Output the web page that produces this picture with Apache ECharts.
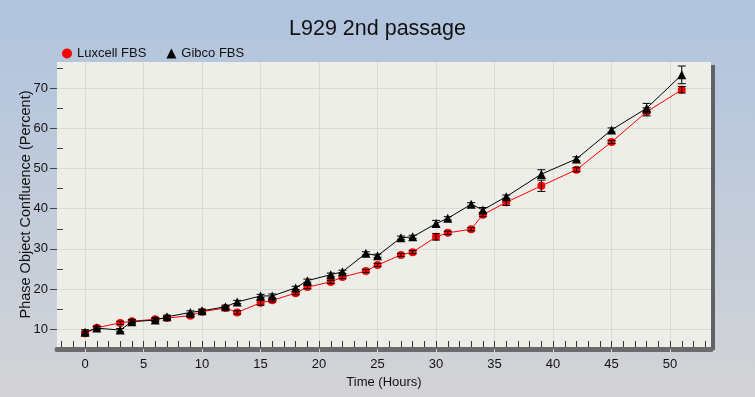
<!DOCTYPE html>
<html>
<head>
<meta charset="utf-8">
<script src="https://cdn.jsdelivr.net/npm/echarts@6/dist/echarts.min.js"></script>
<style>
  html, body { margin: 0; padding: 0; }
  #chart { width: 755px; height: 397px; }
</style>
</head>
<body>
<div id="chart"></div>
<script>
// time points (hours)
const hours = [0, 1, 3, 4, 6, 7, 9, 10, 12, 13, 15, 16, 18, 19, 21, 22, 24, 25, 27, 28, 30, 31, 33, 34, 36, 39, 42, 45, 48, 51];
// confluence (%)
const luxcell = [9.0, 10.4, 11.6, 12.0, 12.5, 12.8, 13.4, 14.4, 15.3, 14.2, 16.6, 17.2, 19.0, 20.5, 21.8, 23.0, 24.5, 26.0, 28.5, 29.2, 33.0, 34.0, 34.9, 38.5, 41.6, 45.7, 49.7, 56.6, 64.1, 69.6];
const gibco = [9.3, 10.3, 9.8, 11.9, 12.3, 13.1, 14.2, 14.6, 15.6, 16.8, 18.3, 18.3, 20.3, 22.1, 23.6, 24.3, 28.9, 28.3, 32.8, 33.0, 36.3, 37.6, 41.1, 39.7, 43.0, 48.6, 52.4, 59.6, 65.0, 73.3];
// error (+/-)
const luxcellErr = [0.4, 0.4, 0.4, 0.4, 0.4, 0.4, 0.4, 0.4, 0.4, 0.4, 0.6, 0.4, 0.4, 0.4, 0.4, 0.4, 0.4, 0.4, 0.4, 0.4, 0.8, 0.4, 0.4, 0.5, 0.8, 1.4, 0.5, 0.4, 1.0, 0.8];
const gibcoErr = [0.6, 0.4, 0.4, 0.4, 0.4, 0.4, 0.4, 0.4, 0.4, 0.4, 0.4, 0.5, 0.4, 0.4, 0.4, 0.4, 0.4, 0.4, 0.4, 0.4, 0.8, 0.4, 0.4, 0.6, 0.4, 1.1, 0.5, 0.5, 1.2, 2.2];
// ticks
const xMajor = [0, 5, 10, 15, 20, 25, 30, 35, 40, 45, 50];
const xMinor = [-2, -1, 0, 1, 2, 3, 4, 5, 6, 7, 8, 9, 10, 11, 12, 13, 14, 15, 16, 17, 18, 19, 20, 21, 22, 23, 24, 25, 26, 27, 28, 29, 30, 31, 32, 33, 34, 35, 36, 37, 38, 39, 40, 41, 42, 43, 44, 45, 46, 47, 48, 49, 50, 51, 52, 53];
const yMajor = [10, 20, 30, 40, 50, 60, 70];
const yMinor = [15, 25, 35, 45, 55, 65, 75];

const FONT = 'Arial, "Liberation Sans", sans-serif';
const X_MIN = -2.4, X_MAX = 53.5, Y_MIN = 5.6, Y_MAX = 76.5;

const chart = echarts.init(document.getElementById('chart'));

function errData(vals, errs) {
  return hours.map((t, i) => [t, vals[i] - errs[i], vals[i] + errs[i]]);
}

function renderErr(params, api) {
  const x = api.value(0);
  const lo = api.coord([x, api.value(1)]);
  const hi = api.coord([x, api.value(2)]);
  const style = { stroke: '#000', lineWidth: 1 };
  return {
    type: 'group',
    children: [
      { type: 'line', shape: { x1: lo[0], y1: lo[1], x2: hi[0], y2: hi[1] }, style },
      { type: 'line', shape: { x1: lo[0] - 4, y1: lo[1], x2: lo[0] + 4, y2: lo[1] }, style },
      { type: 'line', shape: { x1: hi[0] - 4, y1: hi[1], x2: hi[0] + 4, y2: hi[1] }, style }
    ]
  };
}

const option = {
  animation: false,
  backgroundColor: new echarts.graphic.LinearGradient(0, 0, 0, 1, [
    { offset: 0, color: '#b0c4de' },
    { offset: 1, color: '#d3d3d6' }
  ]),
  textStyle: { fontFamily: FONT },
  title: {
    text: 'L929 2nd passage',
    left: 'center',
    top: 13,
    textStyle: { fontSize: 21.5, fontWeight: 'normal', color: '#111', fontFamily: FONT }
  },
  legend: {
    left: 57,
    top: 42,
    itemWidth: 10,
    itemHeight: 10,
    itemGap: 20,
    textStyle: { fontSize: 13, color: '#111', fontFamily: FONT },
    data: [
      { name: 'Luxcell FBS', icon: 'circle', itemStyle: { color: '#ff0000' } },
      { name: 'Gibco FBS', icon: 'triangle', itemStyle: { color: '#000' } }
    ]
  },
  grid: {
    left: 57,
    right: 44,
    top: 62,
    bottom: 50,
    show: true,
    backgroundColor: '#eeeee8',
    borderWidth: 0,
    shadowColor: '#5f6368',
    shadowOffsetX: 4,
    shadowOffsetY: 3,
    shadowBlur: 0
  },
  xAxis: [
    {
      type: 'value',
      min: X_MIN,
      max: X_MAX,
      offset: 2,
      name: 'Time (Hours)',
      nameLocation: 'middle',
      nameGap: 27,
      nameTextStyle: { fontSize: 13, color: '#111', fontFamily: FONT },
      axisLine: { show: true, onZero: false, lineStyle: { color: '#6b6b6b', width: 5 } },
      axisTick: { show: true, customValues: xMajor, inside: false, length: 4, lineStyle: { color: '#d0d2d6', width: 1 } },
      axisLabel: { customValues: xMajor, margin: 9, fontSize: 13, color: '#111', fontFamily: FONT },
      splitLine: { show: true, lineStyle: { color: '#dadad4', width: 1 } }
    },
    {
      type: 'value',
      min: X_MIN,
      max: X_MAX,
      position: 'bottom',
      axisLine: { show: false, onZero: false },
      axisTick: { show: true, customValues: xMinor, inside: true, length: 6, lineStyle: { color: '#333', width: 1 } },
      axisLabel: { show: false },
      splitLine: { show: false }
    }
  ],
  yAxis: [
    {
      type: 'value',
      min: Y_MIN,
      max: Y_MAX,
      name: 'Phase Object Confluence (Percent)',
      nameLocation: 'middle',
      nameGap: 24,
      nameMoveOverlap: false,
      nameTextStyle: { fontSize: 14.5, color: '#111', fontFamily: FONT },
      axisLine: { show: false, onZero: false },
      axisTick: { show: true, customValues: yMajor, inside: false, length: 7, lineStyle: { color: '#444', width: 1 } },
      axisLabel: { customValues: yMajor, margin: 9, fontSize: 13, color: '#111', fontFamily: FONT },
      splitLine: { show: true, lineStyle: { color: '#dadad4', width: 1 } }
    },
    {
      type: 'value',
      min: Y_MIN,
      max: Y_MAX,
      position: 'left',
      axisLine: { show: false, onZero: false },
      axisTick: { show: true, customValues: yMinor, inside: true, length: 6, lineStyle: { color: '#444', width: 1 } },
      axisLabel: { show: false },
      splitLine: { show: false }
    }
  ],
  series: [
    {
      name: 'Luxcell FBS',
      type: 'line',
      data: hours.map((t, i) => [t, luxcell[i]]),
      symbol: 'circle',
      symbolSize: 8,
      itemStyle: { color: '#ff0000' },
      lineStyle: { color: '#ff0000', width: 1 },
      z: 3
    },
    {
      name: 'Gibco FBS',
      type: 'line',
      data: hours.map((t, i) => [t, gibco[i]]),
      symbol: 'triangle',
      symbolSize: 9,
      itemStyle: { color: '#000' },
      lineStyle: { color: '#000', width: 1 },
      z: 4
    },
    {
      name: 'Luxcell err',
      type: 'custom',
      renderItem: renderErr,
      data: errData(luxcell, luxcellErr),
      encode: { x: 0, y: [1, 2] },
      z: 5
    },
    {
      name: 'Gibco err',
      type: 'custom',
      renderItem: renderErr,
      data: errData(gibco, gibcoErr),
      encode: { x: 0, y: [1, 2] },
      z: 5
    }
  ]
};

chart.setOption(option);
</script>
</body>
</html>
